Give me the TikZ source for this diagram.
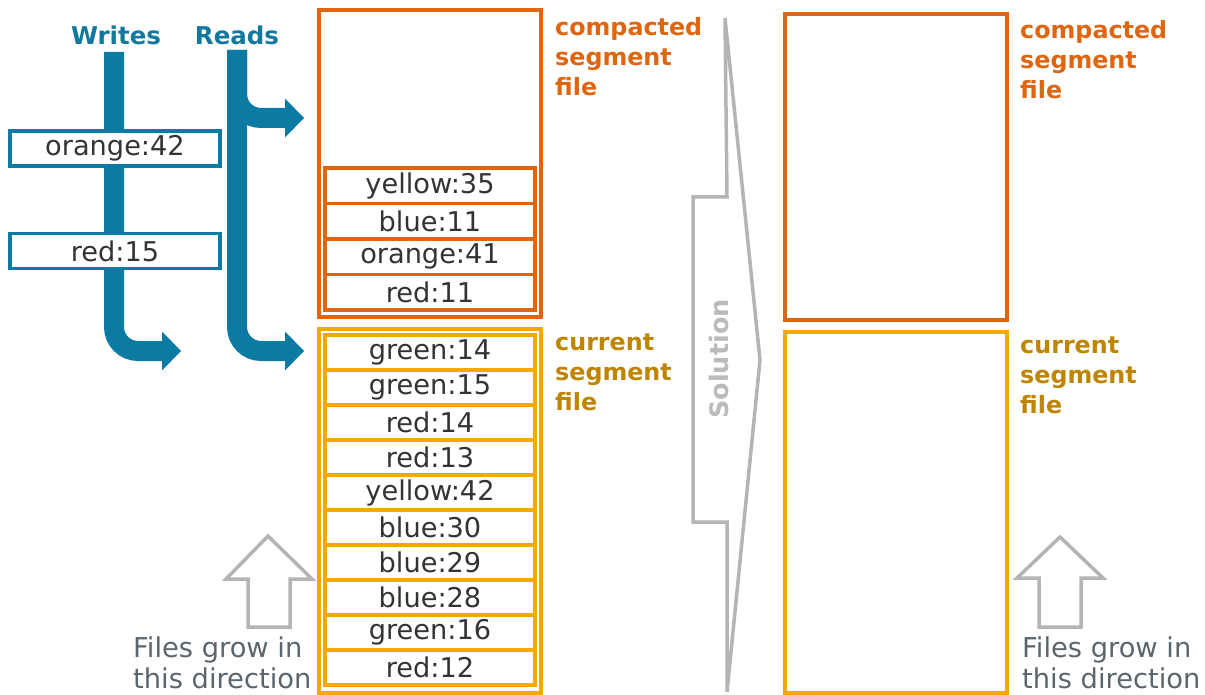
\documentclass[tikz,border=0pt]{standalone}
\usepackage{fontspec}
\setmainfont{DejaVu Sans}
\usetikzlibrary{arrows.meta}
\definecolor{corange}{HTML}{E0650F}
\definecolor{cyellow}{HTML}{F5A800}
\definecolor{cgold}{HTML}{BF8500}
\definecolor{cblue}{HTML}{0C7BA4}
\definecolor{cbluetext}{HTML}{13789E}
\definecolor{cgray}{HTML}{B4B4B4}
\definecolor{csol}{HTML}{BBBBBB}
\definecolor{ctext}{HTML}{333333}
\definecolor{cnote}{HTML}{5B656D}
\begin{document}
\begin{tikzpicture}[x=1pt,y=-1pt,
  rowbox/.style={draw, line width=3.5pt, minimum width=210pt, minimum height=35pt,
    inner sep=0pt, outer sep=0pt, fill=white, text=ctext, font=\fontsize{27.2}{30}\selectfont},
  filebox/.style={draw, line width=4pt, minimum width=222pt, inner sep=0pt, outer sep=0pt},
  band/.style={draw=cblue, line width=20pt, rounded corners=24pt},
  head/.style={-{Triangle[length=19pt,width=39pt,line width=0pt]}},
  seglabel/.style={anchor=base west, align=left, inner sep=0pt,
    font=\fontsize{23.8}{30}\selectfont\bfseries},
  notelabel/.style={anchor=base west, align=left, inner sep=0pt, text=cnote,
    font=\fontsize{27.3}{30.5}\selectfont},
  hdr/.style={text=cbluetext, font=\fontsize{24.5}{28}\selectfont\bfseries},
  outline/.style={draw=cgray, line width=3.5pt, line join=miter}
]
\useasboundingbox (0,0) rectangle (1205,695);

% file boxes
\node[filebox, draw=corange, minimum height=306pt] (compL) at (429.5,163.5) {};
\node[filebox, draw=cyellow, minimum height=364pt] (curL) at (429.5,510.5) {};
\node[filebox, draw=corange, minimum height=306pt] (compR) at (896,167) {};
\node[filebox, draw=cyellow, minimum height=361pt] (curR) at (896,512) {};

% compacted rows
\foreach \t [count=\i] in {yellow:35,blue:11,orange:41,red:11}
  \node[rowbox, draw=corange, minimum height=35.5pt] (c\i) at (430,{168+35.5*\i-17.75}) {\t};
% current rows
\foreach \t [count=\i] in {green:14,green:15,red:14,red:13,yellow:42,blue:30,blue:29,blue:28,green:16,red:12}
  \node[rowbox, draw=cyellow] (r\i) at (430,{335+35*\i-17.5}) {\t};

% labels (anchor = baseline of last line)
\node[seglabel, text=corange] (lcompL) at (555,96) {compacted\\segment\\file};
\node[seglabel, text=cgold] (lcurL) at (555,410) {current\\segment\\file};
\node[seglabel, text=corange] (lcompR) at (1020,99) {compacted\\segment\\file};
\node[seglabel, text=cgold] (lcurR) at (1020,413) {current\\segment\\file};

% headers
\node[hdr] (writes) at (116,35) {Writes};
\node[hdr] (reads) at (237,35) {Reads};

% blue arrows
\coordinate (wtop) at (114,52);
\coordinate (wend) at (181,351);
\coordinate (rtop) at (237,50);
\coordinate (rend1) at (304,118);
\coordinate (rend2) at (304,351);
\draw[band, head] (rtop) |- (rend1);
\draw[band, head] (rtop) |- (rend2);
\draw[band, head] (wtop) |- (wend);

% write entries
\node[rowbox, draw=cblue, minimum width=210pt, minimum height=35pt] (w1) at (115,148.5) {orange:42};
\node[rowbox, draw=cblue, minimum width=210pt, minimum height=35pt] (w2) at (115,251) {red:15};

% grow arrows
\draw[outline] (268,536) -- (312,579) -- (290,579) -- (290,627) -- (248,627) -- (248,579) -- (226,579) -- cycle;
\draw[outline] (1060,537) -- (1103,578) -- (1081,578) -- (1081,627) -- (1039,627) -- (1039,578) -- (1017,578) -- cycle;
\node[notelabel] (noteL) at (133,688) {Files grow in\\this direction};
\node[notelabel] (noteR) at (1022,688) {Files grow in\\this direction};

% solution arrow
\draw[outline] (725,18) -- (760,360) -- (727,692) -- (727,522) -- (693,522) -- (693,197) -- (727,197) -- cycle;
\node[rotate=90, text=csol, font=\fontsize{25.5}{28}\selectfont\bfseries] (sol) at (719,359) {Solution};
\end{tikzpicture}
\end{document}
